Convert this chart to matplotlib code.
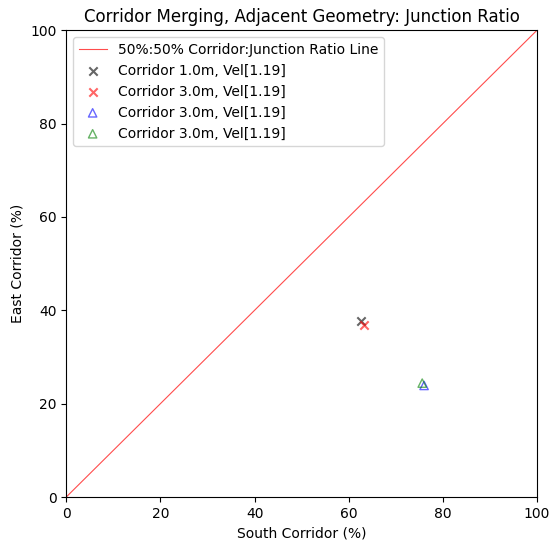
import matplotlib
matplotlib.use("Agg")
import matplotlib.pyplot as plt

labels = ["Corridor 1.0m, Vel[1.19]", "Corridor 3.0m, Vel[1.19]",
          "Corridor 3.0m, Vel[1.19]", "Corridor 3.0m, Vel[1.19]"]
south = [62.5, 63.3, 76.0, 75.6]
east = [37.6, 36.8, 23.9, 24.4]
markers = ["x", "x", "^", "^"]
colors = ["black", "red", "blue", "green"]
line_x = [0, 100]
line_y = [0, 100]

fig, ax = plt.subplots(figsize=(5.52, 5.48), dpi=100)
ax.plot(line_x, line_y, color="red", lw=0.8, alpha=0.7,
        label="50%:50% Corridor:Junction Ratio Line")
for sx, ey, m, c, l in zip(south, east, markers, colors, labels):
    if m == "x":
        ax.scatter([sx], [ey], marker=m, color=c, alpha=0.6, s=36, label=l)
    else:
        ax.scatter([sx], [ey], marker=m, facecolors="none", edgecolors=c,
                   alpha=0.6, s=36, label=l)
ax.set_xlim(0, 100)
ax.set_ylim(0, 100)
ax.set_xlabel("South Corridor (%)")
ax.set_ylabel("East Corridor (%)")
ax.set_title("Corridor Merging, Adjacent Geometry: Junction Ratio")
ax.legend(loc="upper left")
fig.subplots_adjust(left=0.12, right=0.973, bottom=0.093, top=0.945)
fig.savefig("out.png", dpi=100)
